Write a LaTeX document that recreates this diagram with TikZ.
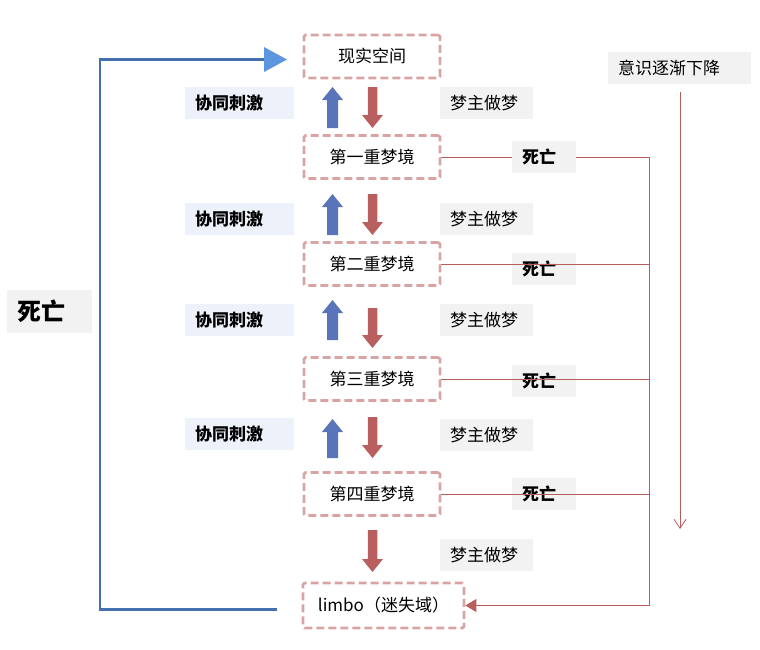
\documentclass[tikz,border=0pt]{standalone}
\usepackage{fontspec}
\setmainfont{Noto Sans CJK SC}
\usetikzlibrary{arrows.meta}
\definecolor{boxc}{HTML}{D9A3A3}
\definecolor{redarr}{HTML}{BA5F5F}
\definecolor{bluearr}{HTML}{5A74B9}
\definecolor{redline}{HTML}{B95C5C}
\definecolor{loopc}{HTML}{4470B0}
\definecolor{headc}{HTML}{5B96DE}
\definecolor{greyfill}{HTML}{F2F2F2}
\definecolor{bluefill}{HTML}{EDF2FA}
\newcommand\myup[3]{\fill[bluearr] (#1-5.5,#3) -- (#1-5.5,#2+13) -- (#1-10.5,#2+13) -- (#1,#2) -- (#1+10.5,#2+13) -- (#1+5.5,#2+13) -- (#1+5.5,#3) -- cycle;}
\newcommand\mydown[3]{\fill[redarr] (#1-4.75,#2) -- (#1-4.75,#3-13) -- (#1-10.5,#3-13) -- (#1,#3) -- (#1+10.5,#3-13) -- (#1+4.75,#3-13) -- (#1+4.75,#2) -- cycle;}
\begin{document}
\begin{tikzpicture}[x=1pt,y=-1pt,
  lvl/.style={draw=boxc, line width=2.8pt, dash pattern=on 8pt off 4pt, rounded corners=1.5pt, minimum width=136pt, minimum height=43pt, font=\fontsize{17}{20}\selectfont, inner sep=0pt},
  tag/.style={anchor=west, inner xsep=10pt, inner ysep=0pt, minimum height=32pt, font=\fontsize{17}{20}\selectfont},
  cotag/.style={tag, fill=bluefill, text width=89pt, font=\fontsize{17}{20}\selectfont\bfseries},
  dreamtag/.style={tag, fill=greyfill, text width=73pt},
  deathtag/.style={tag, fill=greyfill, text width=44pt, font=\fontsize{17}{20}\selectfont\bfseries},
  rline/.style={draw=redline, line width=1pt}
]
\useasboundingbox (0,0) rectangle (760,649);

% level boxes
\node[lvl] (real) at (372,56.5) {现实空间};
\node[lvl] (d1) at (372,157) {第一重梦境};
\node[lvl] (d2) at (372,264) {第二重梦境};
\node[lvl] (d3) at (372,379) {第三重梦境};
\node[lvl] (d4) at (372,494) {第四重梦境};
\node[lvl, minimum width=161pt, minimum height=45pt] (limbo) at (383.5,605.5) {limbo（迷失域）};

% left labels
\node[cotag] (c1) at (185,103) {协同刺激};
\node[cotag] (c2) at (185,219) {协同刺激};
\node[cotag] (c3) at (185,320) {协同刺激};
\node[cotag] (c4) at (185,434) {协同刺激};

% dream labels
\node[dreamtag] (m1) at (440,103) {梦主做梦};
\node[dreamtag] (m2) at (440,219) {梦主做梦};
\node[dreamtag] (m3) at (440,320) {梦主做梦};
\node[dreamtag] (m4) at (440,435) {梦主做梦};
\node[dreamtag] (m5) at (440,555) {梦主做梦};

% block arrows
\myup{332.5}{87}{128}
\myup{332.5}{194}{235}
\myup{332.5}{300}{340}
\myup{332.5}{419}{458}
\mydown{372.5}{87}{128}
\mydown{372.5}{194}{235}
\mydown{372.5}{308}{348}
\mydown{372.5}{417}{458}
\mydown{372.5}{530}{572}

% death lines
\coordinate (v1) at (649,157);
\coordinate (v5) at (649,605.5);
\draw[rline] (d1.east) -- (v1) -- (v5);
\draw[rline, -{Triangle[width=13pt,length=11pt]}] (v5) -- (limbo.east);
\node[deathtag] (x1) at (512,157) {死亡};
\node[deathtag] (x2) at (512,269) {死亡};
\node[deathtag] (x3) at (512,381) {死亡};
\node[deathtag] (x4) at (512,493.5) {死亡};
\draw[rline] (d2.east) -- (d2.east -| v1);
\draw[rline] (d3.east) -- (d3.east -| v1);
\draw[rline] (d4.east) -- (d4.east -| v1);

% consciousness
\node[tag, fill=greyfill, text width=123pt] (cons) at (608,68) {意识逐渐下降};
\coordinate (ca) at (680,92);
\coordinate (cb) at (680,529);
\draw[draw=redline, line width=0.8pt, -{Straight Barb[width=12pt,length=9pt]}] (ca) -- (cb);

% left death and loop
\node[tag, fill=greyfill, text width=65pt, minimum height=43pt, font=\fontsize{24}{28}\selectfont\bfseries] (xl) at (7,311.5) {死亡};
\coordinate (l0) at (277,609.5);
\coordinate (l1) at (100,609.5);
\coordinate (l2) at (100,59.5);
\coordinate (l3) at (287,59.5);
\draw[draw=loopc, line width=2.5pt, line join=miter] (l0) -- (l1) -- (l2) -- ([xshift=-22pt]l3);
\fill[headc] ([xshift=-23pt,yshift=-12.5pt]l3) -- (l3) -- ([xshift=-23pt,yshift=12.5pt]l3) -- cycle;
\end{tikzpicture}
\end{document}
